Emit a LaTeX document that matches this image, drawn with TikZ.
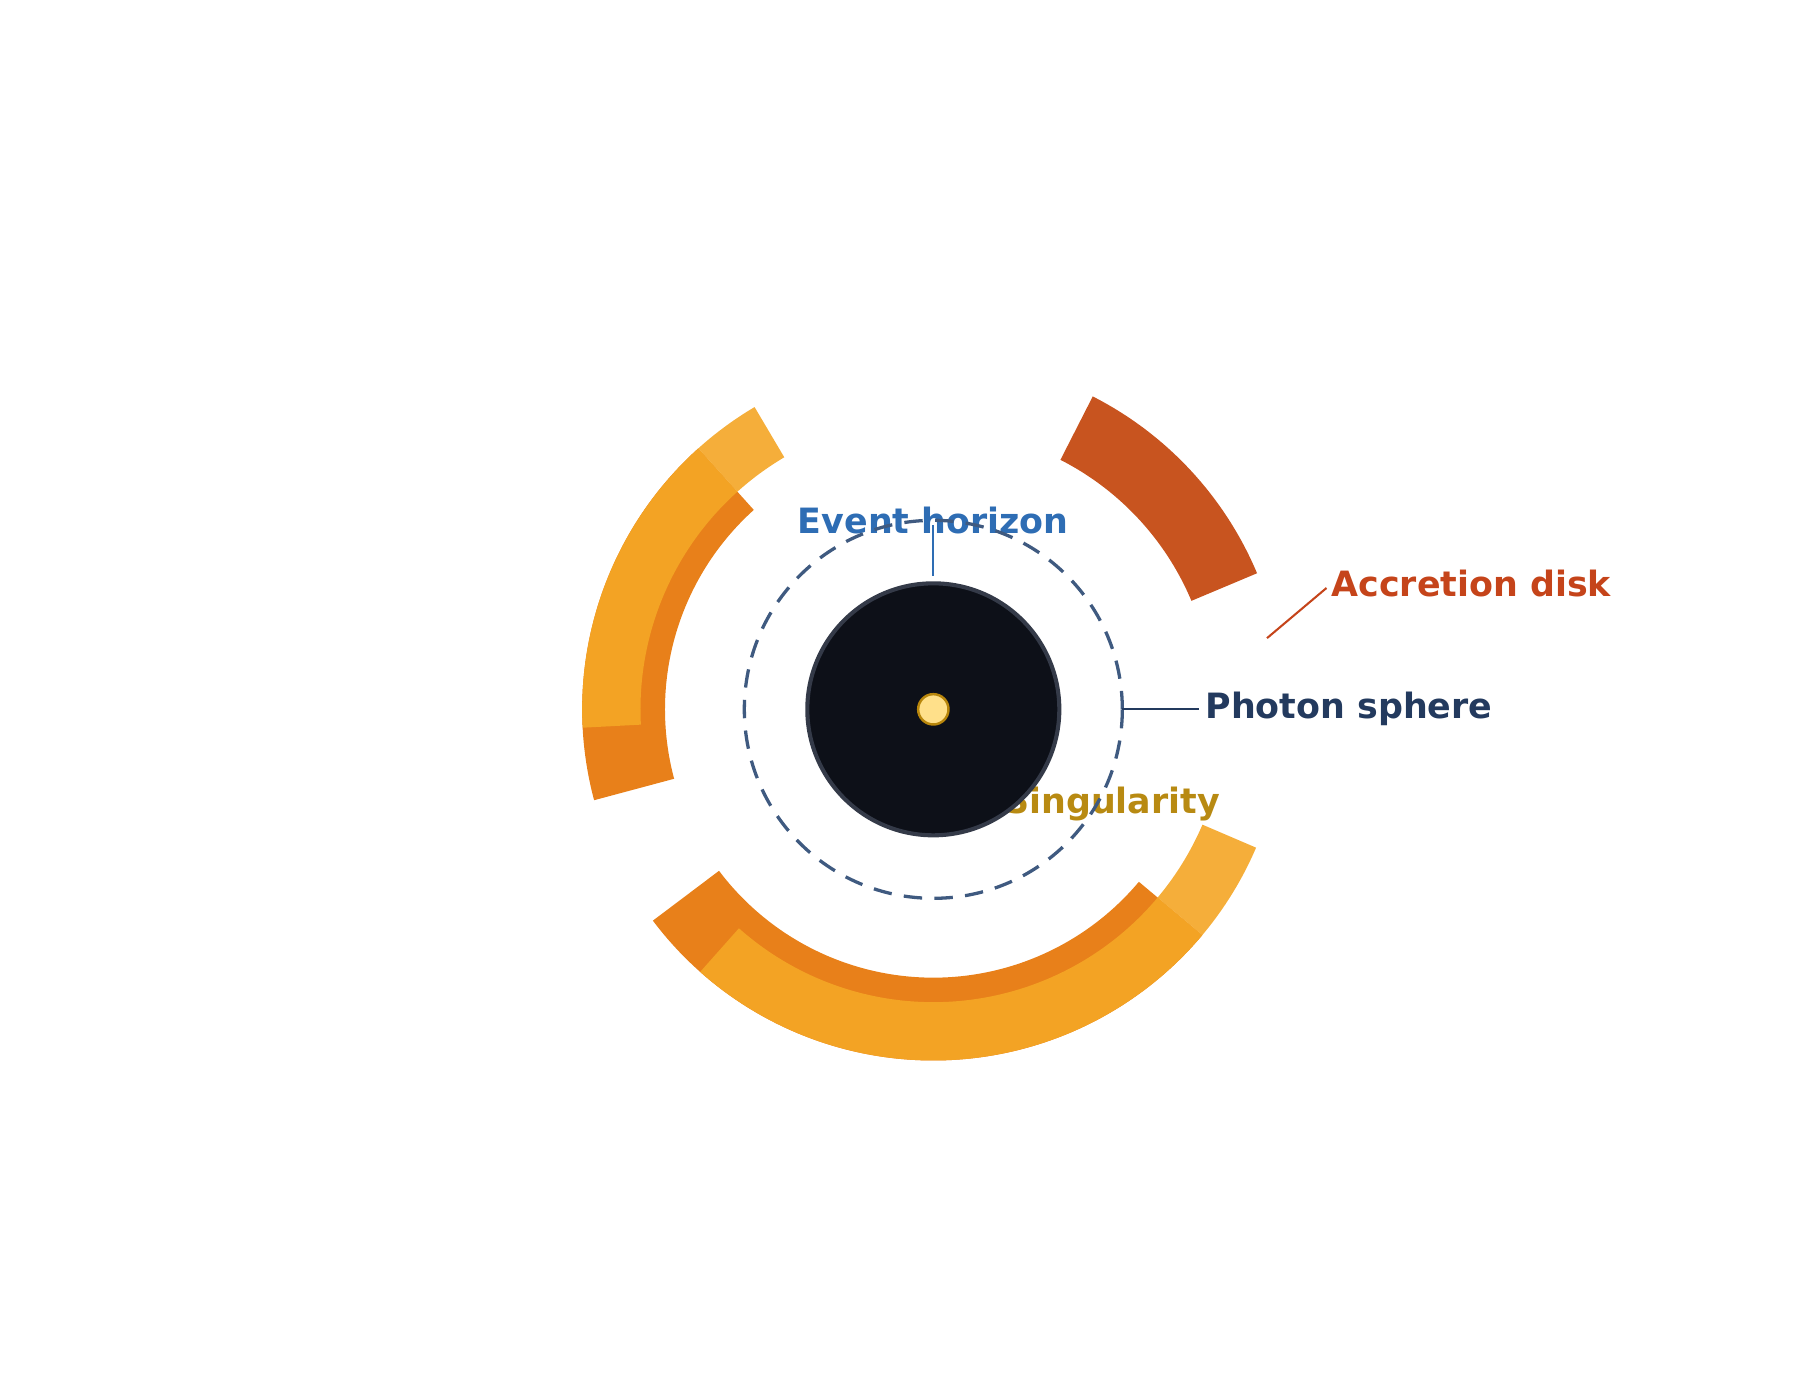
\documentclass[tikz,border=0pt]{standalone}
\usepackage{fontspec}
\setmainfont{DejaVu Sans}
\begin{document}
\begin{tikzpicture}
\definecolor{dk}{HTML}{E8801A}\definecolor{md}{HTML}{F3A324}\definecolor{lt}{HTML}{F5AE3A}\definecolor{rd}{HTML}{C8541F}
\tikzset{lbl/.style={font=\bfseries\fontsize{17}{19}\selectfont,inner sep=0pt},
 sector/.style n args={4}{insert path={(#1:#4) arc[start angle=#1,end angle=#2,radius=#4] -- (#2:#3) arc[start angle=#2,end angle=#1,radius=#3] -- cycle}}}
\useasboundingbox (-16,-11.84) rectangle (15.2,12.16);
% disk
\fill[rd,sector={22.8}{63}{4.8}{6.02}];
\fill[dk,sector={132}{195}{4.6}{6.02}];
\fill[md,sector={132}{183}{5.02}{6.02}];
\fill[lt,sector={120.6}{132}{5.02}{6.02}];
\fill[dk,sector={217}{320}{4.6}{6.02}];
\fill[md,sector={228.4}{320}{5.02}{6.02}];
\fill[lt,sector={320}{336.8}{5.02}{6.02}];
% labels
\node[lbl,text={rgb,255:red,46;green,109;blue,180}] (eh) at (0,3.24) {Event horizon};
\node[lbl,text={rgb,255:red,197;green,68;blue,26},anchor=west] (ad) at (6.82,2.16) {Accretion disk};
\node[lbl,text={rgb,255:red,35;green,58;blue,94},anchor=west] (ps) at (4.66,0) {Photon sphere};
\node[lbl,text={rgb,255:red,184;green,138;blue,18},anchor=east] (sg) at (4.92,-1.62) {Singularity};
% photon sphere
\draw[color={rgb,255:red,63;green,90;blue,128},line width=1.6pt,dash pattern=on 9pt off 6pt] (0,0) circle (3.24);
% connectors
\coordinate (ehb) at (0,2.28);
\draw[color={rgb,255:red,46;green,109;blue,180},line width=1pt] (0,3.16) -- (ehb);
\coordinate (ad1) at (5.72,1.22); \coordinate (ad2) at (6.74,2.08);
\draw[color={rgb,255:red,197;green,68;blue,26},line width=1pt] (ad1) -- (ad2);
\coordinate (ps1) at (3.24,0); \coordinate (ps2) at (4.56,0);
\draw[color={rgb,255:red,35;green,58;blue,94},line width=1pt] (ps1) -- (ps2);
% black hole
\node[circle,minimum size=4.32cm,fill={rgb,255:red,13;green,16;blue,24},draw={rgb,255:red,52;green,58;blue,72},line width=2pt,inner sep=0] (bh) at (0,0) {};
\node[circle,minimum size=0.52cm,fill={rgb,255:red,255;green,224;blue,138},draw={rgb,255:red,184;green,134;blue,11},line width=1.2pt,inner sep=0] (sing) at (0,0) {};
\end{tikzpicture}
\end{document}
